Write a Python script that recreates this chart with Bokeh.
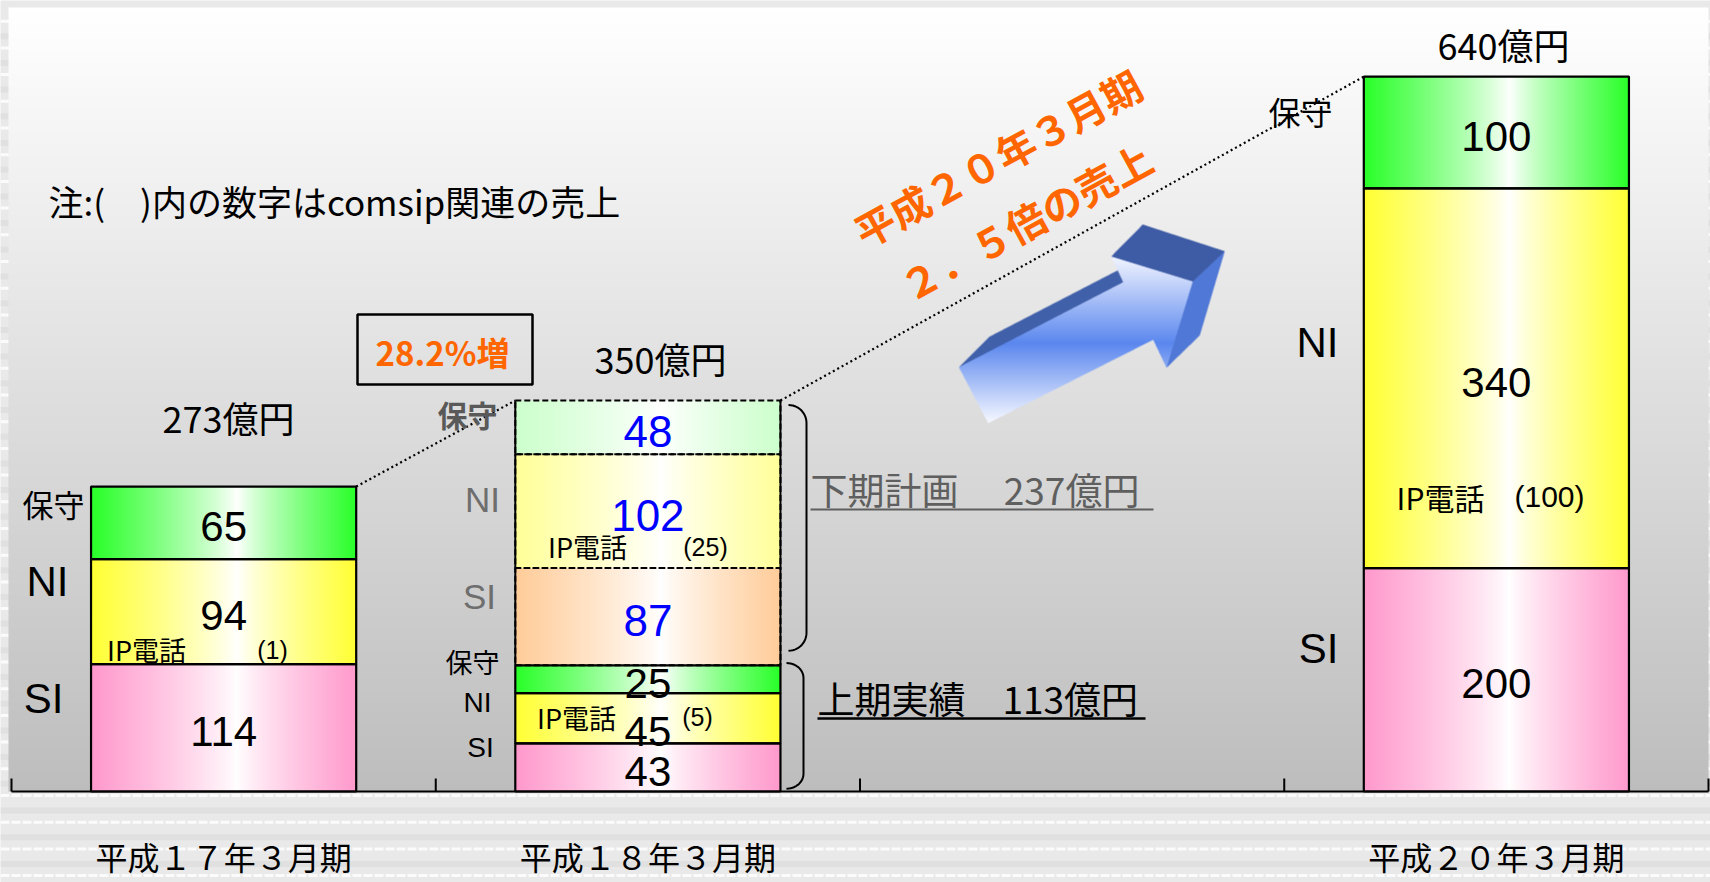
import numpy as np
from bokeh.plotting import figure
from bokeh.models import Range1d
from bokeh.core.properties import value
from bokeh.embed import file_html
from bokeh.resources import INLINE

# ---------------- data (億円) ----------------
periods = ["平成１７年３月期", "平成１８年３月期", "", "平成２０年３月期"]
seg_names = ["SI", "NI", "保守"]
fy17 = [114, 94, 65]
fy18_first = [43, 45, 25]      # 上期実績
fy18_second = [87, 102, 48]    # 下期計画
fy20 = [200, 340, 100]
ip_phone = [1, 5, 25, 100]     # IP電話 (comsip関連): 17期, 18期上期, 18期下期, 20期

# ---------------- canvas geometry ----------------
W, H = 1710, 882
X0, XS = 11.0, 424.25      # pixel of category boundary 0, pixels per category
Y0, YS = 791.0, 1.117      # pixel of the baseline, pixels per 億円
BAR_W = 0.625
JP = "Noto Sans CJK JP"
LAT = "Liberation Sans"


def px(x):
    return (x - X0) / XS


def py(y):
    return (Y0 - y) / YS


def to_rgba(rgb, alpha=None):
    h, w = rgb.shape[:2]
    img = np.empty((h, w), dtype=np.uint32)
    v = img.view(dtype=np.uint8).reshape((h, w, 4))
    v[..., :3] = np.clip(np.rint(rgb), 0, 255).astype(np.uint8)
    if alpha is None:
        v[..., 3] = 255
    else:
        v[..., 3] = np.clip(np.rint(alpha * 255), 0, 255).astype(np.uint8)
    return img


p = figure(width=W, height=H,
           x_range=Range1d(px(0), px(W)), y_range=Range1d(py(H), py(0)),
           x_axis_location=None, y_axis_location=None,
           toolbar_location=None, output_backend="svg", min_border=0,
           outline_line_color=None,
           background_fill_color="#e9e9e9", border_fill_color="#e9e9e9")
p.grid.grid_line_color = None

# ---- striped slide texture around the panel ----
stripe_y = [795 + 26.7 * k for k in range(-30, 4)]
stripe_y = [y for y in stripe_y if 0 < y < H]
n = len(stripe_y)
p.segment(x0=[px(0)] * n, x1=[px(W)] * n,
          y0=[py(y + 15) for y in stripe_y], y1=[py(y + 15) for y in stripe_y],
          line_color="#e0e0e0", line_width=6)
p.segment(x0=[px(0)] * n, x1=[px(W)] * n,
          y0=[py(y) for y in stripe_y], y1=[py(y) for y in stripe_y],
          line_color="#fbfbfb", line_width=3, line_dash="9 2")

# ---- panel with vertical gradient ----
t = np.linspace(0.0, 1.0, 256)[:, None]
bottom_c = np.array([189, 189, 189], float)
top_c = np.array([255, 255, 255], float)
panel = (bottom_c + (top_c - bottom_c) * t).reshape(256, 1, 3)
p.image_rgba(image=[to_rgba(panel)], x=px(8), y=py(791),
             dw=px(1708) - px(8), dh=py(7) - py(791))


# ---- 3D arrow (rasterised with supersampling) ----
def inside(xx, yy, poly):
    res = np.zeros(xx.shape, dtype=bool)
    m = len(poly)
    for i in range(m):
        x1, y1 = poly[i]
        x2, y2 = poly[(i + 1) % m]
        if y1 == y2:
            continue
        crosses = (y1 > yy) != (y2 > yy)
        xi = x1 + (yy - y1) * (x2 - x1) / (y2 - y1)
        res ^= crosses & (xx < xi)
    return res


AX, AY, AW, AH, SS = 950, 215, 282, 215, 3
gx = AX + (np.arange(AW * SS) + 0.5) / SS
gy = AY + (np.arange(AH * SS) + 0.5) / SS
XX, YY = np.meshgrid(gx, gy)
rgb = np.zeros(XX.shape + (3,))
cov = np.zeros(XX.shape)
faces = [
    ([(958.3, 366.7), (989.3, 336.0), (1117.5, 269.7), (1122.7, 281.7)], (64, 96, 170)),
    ([(1110.7, 256.0), (1142.3, 224.0), (1224.3, 250.7), (1192.3, 281.0)], (62, 92, 166)),
    ([(1192.3, 281.0), (1224.3, 250.7), (1199.3, 335.0), (1166.0, 367.3)], (80, 120, 214)),
]
for poly, col in faces:
    msk = inside(XX, YY, poly)
    rgb[msk] = col
    cov[msk] = 1.0
front = [(958.3, 366.7), (1122.7, 281.7), (1110.7, 256.0), (1192.3, 281.0),
         (1166.0, 367.3), (1152.7, 339.3), (987.7, 422.7)]
msk = inside(XX, YY, front)
stops = [256, 343, 422]
chans = list(zip((242, 245, 255), (90, 135, 238), (246, 248, 255)))
rgb[msk] = np.stack([np.interp(YY[msk], stops, c) for c in chans], axis=-1)
cov[msk] = 1.0
pre = (rgb * cov[..., None]).reshape(AH, SS, AW, SS, 3).mean(axis=(1, 3))
cv = cov.reshape(AH, SS, AW, SS).mean(axis=(1, 3))
arrow = pre / np.maximum(cv, 1e-6)[..., None]
p.image_rgba(image=[to_rgba(arrow[::-1], cv[::-1])], x=px(AX), y=py(AY + AH),
             dw=AW / XS, dh=AH / YS)

# ---- stacked bars ----
blocks = [
    # (category centre, values, base, edge colours, dashed outline)
    (0.5, fy17, 0, [(255, 153, 204), (255, 255, 51), (40, 255, 40)], False),
    (1.5, fy18_first, 0, [(255, 153, 204), (255, 255, 51), (40, 255, 40)], False),
    (1.5, fy18_second, sum(fy18_first), [(255, 204, 153), (255, 255, 153), (204, 255, 204)], True),
    (3.5, fy20, 0, [(255, 153, 204), (255, 255, 51), (40, 255, 40)], False),
]


def bar_gradient(edge, ncol=160):
    u = (np.arange(ncol) + 0.5) / ncol
    c = 0.55
    f = np.where(u < c, (c - u) / c, (u - c) / (1 - c)) ** 0.85
    col = 255 + (np.array(edge, float)[None, :] - 255) * f[:, None]
    return to_rgba(col[None, :, :])


# dotted connectors between bar tops (drawn under the bars)
totals = [sum(fy17), sum(fy18_first) + sum(fy18_second), sum(fy20)]
centers = [0.5, 1.5, 3.5]
p.segment(x0=[c + BAR_W / 2 for c in centers[:-1]], y0=totals[:-1],
          x1=[c - BAR_W / 2 for c in centers[1:]], y1=totals[1:],
          line_color="black", line_width=2.2, line_dash="2 3")

imgs, ix, iy, idw, idh = [], [], [], [], []
solid_x, solid_b, solid_t = [], [], []
dash_x, dash_b, dash_t = [], [], []
for cx, vals, base, edges, dashed in blocks:
    b = base
    for v, e in zip(vals, edges):
        imgs.append(bar_gradient(e))
        ix.append(cx - BAR_W / 2)
        iy.append(b)
        idw.append(BAR_W)
        idh.append(v)
        (dash_x if dashed else solid_x).append(cx)
        (dash_b if dashed else solid_b).append(b)
        (dash_t if dashed else solid_t).append(b + v)
        b += v
p.image_rgba(image=imgs, x=ix, y=iy, dw=idw, dh=idh)
p.vbar(x=dash_x, bottom=dash_b, top=dash_t, width=BAR_W, fill_alpha=0,
       line_color="black", line_width=2, line_dash="6 3")
# solid sides of the planned block
up_lo, up_hi = sum(fy18_first), totals[1]
p.segment(x0=[1.5 - BAR_W / 2, 1.5 + BAR_W / 2], x1=[1.5 - BAR_W / 2, 1.5 + BAR_W / 2],
          y0=[up_lo, up_lo], y1=[up_hi, up_hi], line_color="black", line_width=2)
p.vbar(x=solid_x, bottom=solid_b, top=solid_t, width=BAR_W, fill_alpha=0,
       line_color="black", line_width=2.2)

# ---- value labels ----
DROP = 4 / YS
for cx, vals, base, edges, dashed in blocks:
    b = base
    for k, v in enumerate(vals):
        mid = b + v / 2 - DROP
        if vals is fy18_first and k == 1:
            mid -= 9 / YS
        p.text(x=[cx], y=[mid], text=[str(v)], text_font=value(LAT),
               text_font_size="44px" if dashed else "42px",
               text_color="#0000ff" if dashed else "black",
               text_align="center", text_baseline="middle")
        b += v


def label(xp, yp, s, size, font=JP, color="black", align="center",
          style="normal", angle=0.0):
    p.text(x=[px(xp)], y=[py(yp)], text=[s], text_font=value(font),
           text_font_size=f"{size}px", text_color=color, text_align=align,
           text_baseline="middle", text_font_style=style, angle=angle)


# segment names beside each bar
label(53, 503, seg_names[2], 31)
label(47, 581, seg_names[1], 42, LAT)
label(43, 698, seg_names[0], 42, LAT)
label(467, 413, seg_names[2], 30, color="#595959", style="bold")
label(482, 499, seg_names[1], 35, LAT, color="#6e6e6e")
label(479, 596, seg_names[0], 35, LAT, color="#6e6e6e")
label(472, 661, seg_names[2], 27)
label(477, 702, seg_names[1], 28, LAT)
label(480, 747, seg_names[0], 28, LAT)
label(1300, 110, seg_names[2], 32)
label(1317, 342, seg_names[1], 42, LAT)
label(1318, 648, seg_names[0], 42, LAT)

# IP電話 sub-labels
label(146, 649, "IP電話", 27)
label(272, 649, f"({ip_phone[0]})", 25, LAT)
label(576, 717, "IP電話", 27)
label(697, 716, f"({ip_phone[1]})", 25, LAT)
label(587, 546, "IP電話", 27)
label(705, 546, f"({ip_phone[2]})", 25, LAT)
label(1440, 496, "IP電話", 30)
label(1549, 496, f"({ip_phone[3]})", 30, LAT)

# totals
label(228, 416, f"{totals[0]}億円", 36)
label(660, 357, f"{totals[1]}億円", 36)
label(1503, 43, f"{totals[2]}億円", 36)

# note
label(48, 200, "注:(　)内の数字はcomsip関連の売上", 35, align="left")

# growth box
growth = (totals[1] / totals[0] - 1) * 100
p.quad(left=[px(357)], right=[px(532)], top=[py(314)], bottom=[py(384)],
       fill_alpha=0, line_color="black", line_width=2.5)
label(442, 351, f"{growth:.1f}%増", 33, color="#ff6600", style="bold")

# slanted headline
ang = 0.50
label(997, 157, "平成２０年３月期", 40, color="#ff6600", style="bold", angle=ang)
label(1025, 221, "２．５倍の売上", 40, color="#ff6600", style="bold", angle=ang)


# ---- brackets for 上期 / 下期 ----
def bracket(xl, xr, top_val, bot_val, r):
    yt = Y0 - top_val * YS
    yb = Y0 - bot_val * YS
    a = np.linspace(0, np.pi / 2, 14)
    xs = list(xl + (xr - xl) * np.sin(a)) + list(xl + (xr - xl) * np.cos(a))
    ys = list(yt + r - r * np.cos(a)) + list(yb - r + r * np.sin(a))
    return [px(x) for x in xs], [py(y) for y in ys]


bx, by = bracket(788, 806, totals[1] - 4, sum(fy18_first) + 13, 18)
p.line(bx, by, line_color="black", line_width=2)
bx, by = bracket(786, 803, sum(fy18_first) + 2, 2.5, 15)
p.line(bx, by, line_color="black", line_width=2)

label(810, 488, f"下期計画　 {sum(fy18_second)}億円", 37, color="#5f5f5f", align="left")
p.segment(x0=[px(810)], x1=[px(1153)], y0=[py(509)], y1=[py(509)],
          line_color="#5f5f5f", line_width=2)
label(817, 697, f"上期実績　{sum(fy18_first)}億円", 37, align="left")
p.segment(x0=[px(817)], x1=[px(1145)], y0=[py(718)], y1=[py(718)],
          line_color="black", line_width=2.5)

# ---- category axis ----
p.segment(x0=[0], x1=[len(periods)], y0=[0], y1=[0], line_color="black", line_width=2)
bounds = list(range(len(periods) + 1))
p.segment(x0=bounds, x1=bounds, y0=[0] * len(bounds), y1=[13 / YS] * len(bounds),
          line_color="black", line_width=2)
for i, name in enumerate(periods):
    if name:
        p.text(x=[i + 0.5], y=[py(855)], text=[name], text_font=value(JP),
               text_font_size="32px", text_align="center", text_baseline="middle")

open("out.html", "w").write(file_html(p, INLINE))
